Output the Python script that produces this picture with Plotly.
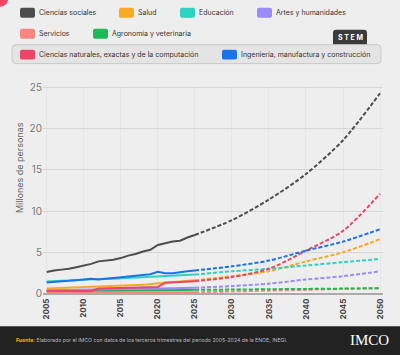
import plotly.graph_objects as go

# ---------------- data ----------------
years_hist = list(range(2005, 2026))
years_proj = [2025, 2030, 2035, 2040, 2045, 2050]

categories = ["Ciencias sociales", "Salud", "Educación", "Artes y humanidades",
              "Servicios", "Agronomía y veterinaria",
              "Ciencias naturales, exactas y de la computación",
              "Ingeniería, manufactura y construcción"]

hist_sociales = [2.6, 2.8, 2.9, 3.0, 3.2, 3.4, 3.6, 3.9, 4.0, 4.1, 4.3, 4.6, 4.8, 5.1, 5.3, 5.9, 6.1, 6.3, 6.4, 6.8, 7.1]
hist_salud = [0.6, 0.63, 0.66, 0.69, 0.72, 0.75, 0.78, 0.8, 0.83, 0.86, 0.9, 0.95, 1.0, 1.05, 1.15, 1.25, 1.35, 1.4, 1.45, 1.55, 1.6]
hist_educacion = [1.45, 1.5, 1.55, 1.6, 1.65, 1.7, 1.72, 1.75, 1.78, 1.8, 1.85, 1.9, 1.95, 2.0, 2.05, 2.1, 2.15, 2.2, 2.22, 2.26, 2.3]
hist_artes = [0.4, 0.42, 0.44, 0.46, 0.48, 0.5, 0.52, 0.54, 0.56, 0.58, 0.6, 0.6, 0.6, 0.6, 0.6, 0.6, 0.62, 0.65, 0.67, 0.7, 0.7]
hist_servicios = [0.15, 0.15, 0.15, 0.15, 0.15, 0.15, 0.15, 0.15, 0.15, 0.15, 0.15, 0.15, 0.15, 0.15, 0.15, 0.15, 0.15, 0.15, 0.15, 0.15, 0.15]
hist_agronomia = [0.35, 0.35, 0.36, 0.36, 0.37, 0.37, 0.38, 0.38, 0.39, 0.39, 0.4, 0.4, 0.4, 0.41, 0.41, 0.42, 0.42, 0.43, 0.43, 0.44, 0.45]
hist_naturales = [0.3, 0.3, 0.3, 0.3, 0.3, 0.3, 0.3, 0.6, 0.62, 0.65, 0.67, 0.7, 0.72, 0.75, 0.78, 0.8, 1.3, 1.35, 1.4, 1.45, 1.5]
hist_ingenieria = [1.35, 1.45, 1.5, 1.55, 1.6, 1.7, 1.8, 1.7, 1.8, 1.9, 2.0, 2.1, 2.15, 2.25, 2.35, 2.65, 2.45, 2.45, 2.6, 2.7, 2.8]

proj_sociales = [7.1, 8.9, 11.4, 14.5, 18.6, 24.3]
proj_salud = [1.6, 2.1, 2.7, 3.9, 5.0, 6.6]
proj_educacion = [2.3, 2.7, 3.0, 3.4, 3.8, 4.2]
proj_artes = [0.7, 0.9, 1.2, 1.7, 2.1, 2.7]
proj_servicios = [0.15, 0.25, 0.35, 0.45, 0.55, 0.65]
proj_agronomia = [0.45, 0.48, 0.52, 0.56, 0.6, 0.65]
proj_naturales = [1.5, 2.0, 3.0, 5.2, 7.6, 12.1]
proj_ingenieria = [2.8, 3.3, 4.0, 5.2, 6.3, 7.8]

colors = ["#4d4d4d", "#f9a825", "#2ed3c0", "#9a8cf7", "#f7877e", "#1db954", "#ee4466", "#1a73e8"]

x_ticks = [2005, 2010, 2015, 2020, 2025, 2030, 2035, 2040, 2045, 2050]
y_ticks = [0, 5, 10, 15, 20, 25]

hist = [hist_sociales, hist_salud, hist_educacion, hist_artes, hist_servicios, hist_agronomia, hist_naturales, hist_ingenieria]
proj = [proj_sociales, proj_salud, proj_educacion, proj_artes, proj_servicios, proj_agronomia, proj_naturales, proj_ingenieria]

# ---------------- figure ----------------
W, H = 400, 355
L, R, T, B = 43, 17, 84.5, 58.5

fig = go.Figure()
order = [4, 5, 3, 1, 2, 6, 7, 0]
for i in order:
    fig.add_trace(go.Scatter(x=years_proj, y=proj[i], mode="lines", line=dict(color=colors[i], width=2, dash="4px,2px", shape="spline", smoothing=0.8),
                             hoverinfo="skip", showlegend=False))
for i in order:
    fig.add_trace(go.Scatter(x=years_hist, y=hist[i], mode="lines", line=dict(color=colors[i], width=2),
                             name=categories[i], showlegend=False))


def px(xp):
    return (xp - L) / (W - L - R)


def py(yp):
    return (H - B - yp) / (H - T - B)


shapes = []
ann = []


def rrect(x0, y0, x1, y1, r, fill, line=None, lw=0):
    path = (f"M {px(x0 + r)} {py(y0)} L {px(x1 - r)} {py(y0)} Q {px(x1)} {py(y0)} {px(x1)} {py(y0 + r)} "
            f"L {px(x1)} {py(y1 - r)} Q {px(x1)} {py(y1)} {px(x1 - r)} {py(y1)} "
            f"L {px(x0 + r)} {py(y1)} Q {px(x0)} {py(y1)} {px(x0)} {py(y1 - r)} "
            f"L {px(x0)} {py(y0 + r)} Q {px(x0)} {py(y0)} {px(x0 + r)} {py(y0)} Z")
    shapes.append(dict(type="path", xref="paper", yref="paper", path=path, fillcolor=fill,
                       line=dict(color=line or fill, width=lw), layer="above"))


# top-left decoration
shapes.append(dict(type="circle", xref="paper", yref="paper", x0=px(-10), x1=px(8), y0=py(-8), y1=py(6),
                   fillcolor="#ee4466", line=dict(width=0), layer="above"))

# STEM frame & tag
rrect(333, 29, 367, 47, 3, "#3a3a3a")
rrect(12, 44, 381, 63, 4, "#e4e4e4", "#c9c9c9", 1)
ann.append(dict(x=px(350), y=py(37), xref="paper", yref="paper", text="<b>S T E M</b>", showarrow=False,
                font=dict(size=7, color="white", family="Inter"), xanchor="center", yanchor="middle"))

legend_pos = [(20, 12), (119, 12), (180, 12), (257, 12), (20, 33), (93, 33), (20, 54), (222, 54)]
for i, (sx, sy) in enumerate(legend_pos):
    rrect(sx, sy - 5, sx + 15, sy + 5, 2, colors[i])
    ann.append(dict(x=px(sx + 17), y=py(sy), xref="paper", yref="paper", text=categories[i], showarrow=False,
                    font=dict(size=7, color="#333333", family="Inter"), xanchor="left", yanchor="middle"))

# footer
shapes.append(dict(type="rect", xref="paper", yref="paper", x0=px(-5), x1=px(405), y0=py(327), y1=py(360),
                   fillcolor="#222222", line=dict(width=0), layer="above"))
ann.append(dict(x=px(14), y=py(341), xref="paper", yref="paper",
                text="<b><span style='color:#f5b400'>Fuente:</span></b> Elaborado por el IMCO con datos de los terceros trimestres del periodo 2005-2024 de la ENOE, INEGI.",
                showarrow=False, font=dict(size=5.2, color="#bdbdbd", family="Inter"), xanchor="left", yanchor="middle"))
ann.append(dict(x=px(369), y=py(341), xref="paper", yref="paper", text="IMCO", showarrow=False,
                font=dict(size=15, color="white", family="Liberation Serif"), xanchor="center", yanchor="middle"))

# y title
ann.append(dict(x=px(19), y=py(168), xref="paper", yref="paper", text="Millones de personas", showarrow=False,
                textangle=-90, font=dict(size=9, color="#666666", family="Inter"), xanchor="center", yanchor="middle"))

fig.update_layout(
    width=W, height=H,
    margin=dict(l=L, r=R, t=T, b=B, autoexpand=False),
    paper_bgcolor="#eeeeee", plot_bgcolor="#eeeeee",
    shapes=shapes, annotations=ann,
    showlegend=False,
    xaxis=dict(range=[2004.5, 2050.4], tickvals=x_ticks, ticktext=[f"<b>{v}</b>" for v in x_ticks], tickangle=-90,
               tickfont=dict(size=8, color="#444444", family="Inter"), showgrid=True, gridcolor="#e6e6e6",
               zeroline=False, ticks="", showline=False, automargin=False),
    yaxis=dict(range=[-0.3, 25.3], tickvals=y_ticks, tickfont=dict(size=10, color="#777777", family="Inter"),
               showgrid=True, gridcolor="#d6d6d6", gridwidth=1, zeroline=True, zerolinecolor="#aaaaaa", zerolinewidth=2,
               ticks="", ticklen=0, automargin=False),
)
fig.write_html("out.html", config={"displayModeBar": False},
               post_script="document.body.style.margin='0';document.body.style.overflow='hidden';")
